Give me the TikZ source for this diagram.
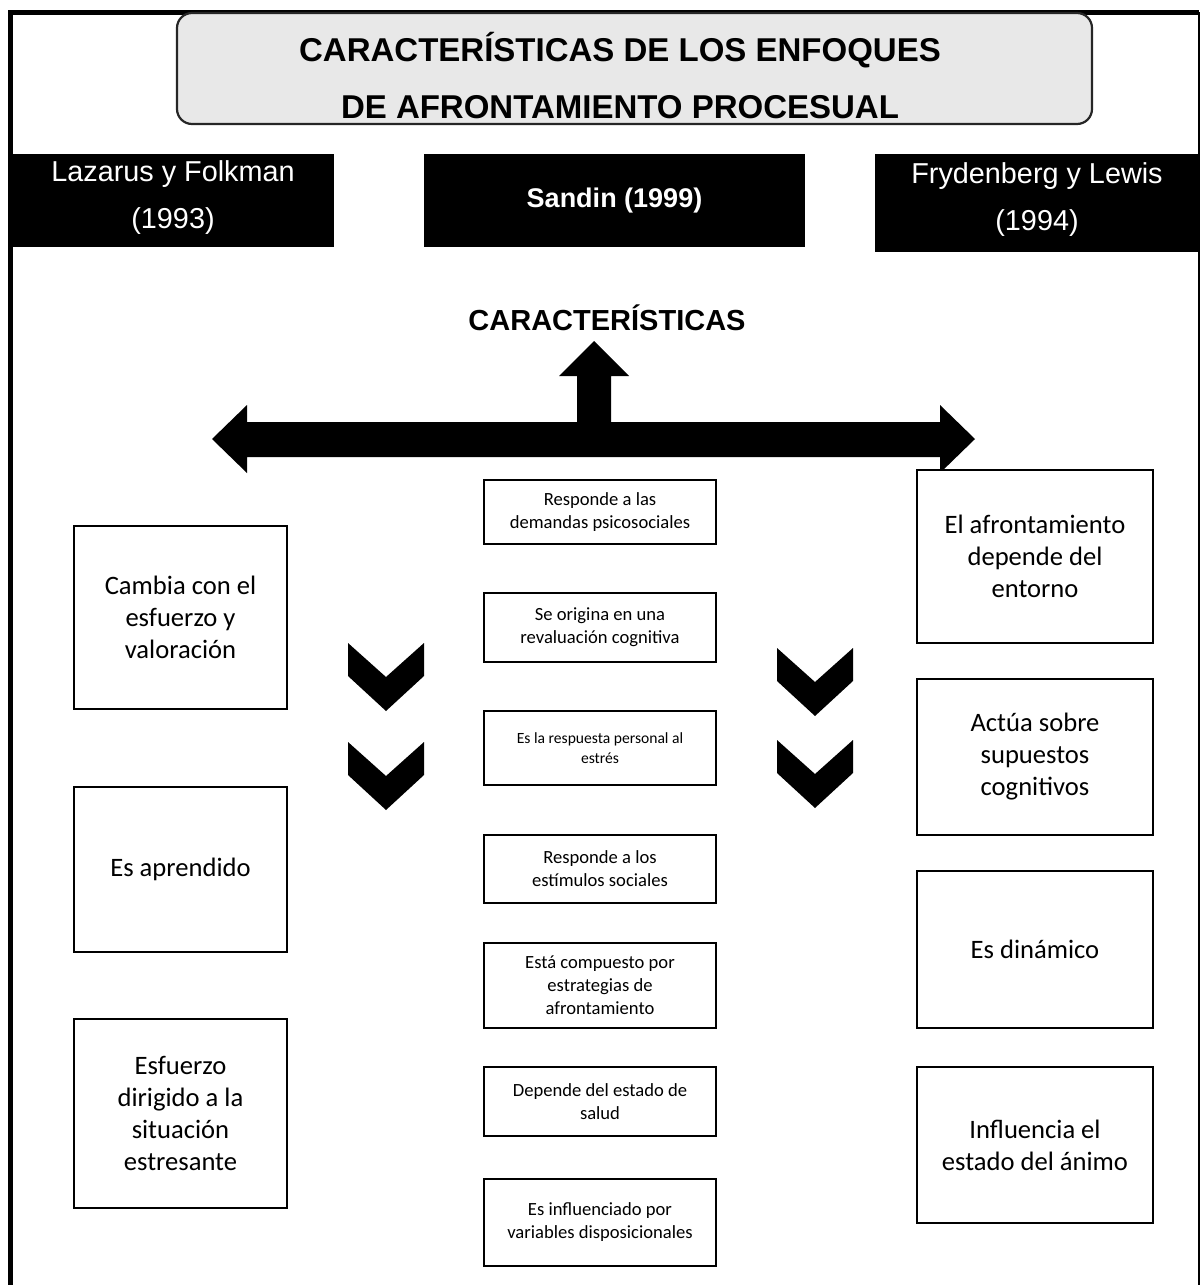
\documentclass[tikz,border=0pt]{standalone}
\usepackage{fontspec}
\setmainfont{Liberation Sans}
\newfontfamily\calib{Carlito}
\usetikzlibrary{positioning}
\tikzstyle{headbox} = [rectangle, fill=black, text=white, align=center, inner sep=0pt,
    text depth=6pt, font=\fontsize{14.4}{23.5}\selectfont]
\tikzstyle{cardbox} = [rectangle, draw=black, line width=1.2pt, fill=white, align=center,
    inner sep=0pt, font=\calib\fontsize{13.3}{16}\selectfont]
\tikzstyle{smallbox} = [rectangle, draw=black, line width=1.2pt, fill=white, align=center,
    inner sep=0pt, minimum width=116pt, font=\calib\fontsize{9.3}{11.5}\selectfont]
\tikzstyle{chevfill} = [fill=black]

\begin{document}
\begin{tikzpicture}[x=0.5pt, y=-0.5pt]
  \useasboundingbox (0,0) rectangle (1201,1285);
   % Frame
    \draw [line width=2.5pt] (10,1285) -- (10,12) -- (1199,12);
    \draw [line width=1pt] (1198.5,12) -- (1198.5,1285);
   % Title
    \node [rectangle, rounded corners=7.5pt, draw=black!85, line width=1.1pt, fill=black!9,
      minimum width=457.5pt, minimum height=55.5pt] (titlebox) at (634.5,68.5) {};
    \node [font=\bfseries\fontsize{16.5}{28.5}\selectfont, align=center] (title) at (620,75.5)
      {CARACTERÍSTICAS DE LOS ENFOQUES\\DE AFRONTAMIENTO PROCESUAL};
   % Authors
    \node [headbox, minimum width=161pt, minimum height=46.5pt] (lazarus) at (173,200.5)
      {Lazarus y Folkman\\(1993)};
    \node [headbox, minimum width=190.5pt, minimum height=46.5pt, text depth=,
      font=\bfseries\fontsize{13.5}{16}\selectfont] (sandin) at (614.5,200.5) {Sandin (1999)};
    \node [headbox, minimum width=162pt, minimum height=49pt] (fryden) at (1037,203)
      {Frydenberg y Lewis\\(1994)};
    \node [font=\bfseries\fontsize{14.5}{17}\selectfont] (caract) at (607,318) {CARACTERÍSTICAS};
   % Block arrow
    \fill (212,439) -- (247,405) -- (247,422) -- (577,422) -- (577,376) -- (559,376)
      -- (594,341) -- (629,376) -- (611,376) -- (611,422) -- (940,422) -- (940,405)
      -- (975,439) -- (940,473) -- (940,457) -- (247,457) -- (247,473) -- cycle;
   % Place nodes
    \node [cardbox, minimum width=106.5pt, minimum height=91.5pt] (cambia) at (180.5,617.5)
      {Cambia con el\\esfuerzo y\\valoración};
    \node [cardbox, minimum width=106.5pt, minimum height=82.5pt] (aprendido) at (180.5,869.5)
      {Es aprendido};
    \node [cardbox, minimum width=106.5pt, minimum height=94.5pt] (esfuerzo) at (180.5,1113.5)
      {Esfuerzo\\dirigido a la\\situación\\estresante};

    \node [smallbox, minimum height=32pt] (demandas) at (600,512)
      {Responde a las\\demandas psicosociales};
    \node [smallbox, minimum height=34.5pt] (reval) at (600,627.5)
      {Se origina en una\\revaluación cognitiva};
    \node [smallbox, minimum height=37pt, font=\calib\fontsize{7.8}{10}\selectfont] (respuesta)
      at (600,748) {Es la respuesta personal al\\estrés};
    \node [smallbox, minimum height=34pt] (estimulos) at (600,869)
      {Responde a los\\estímulos sociales};
    \node [smallbox, minimum height=42.5pt] (estrategias) at (600,985.5)
      {Está compuesto por\\estrategias de\\afrontamiento};
    \node [smallbox, minimum height=34.5pt] (salud) at (600,1101.5)
      {Depende del estado de\\salud};
    \node [smallbox, minimum height=43.5pt] (disposic) at (600,1222.5)
      {Es influenciado por\\variables disposicionales};

    \node [cardbox, minimum width=118pt, minimum height=86.5pt] (entorno) at (1035,556.5)
      {El afrontamiento\\depende del\\entorno};
    \node [cardbox, minimum width=118pt, minimum height=78pt] (supuestos) at (1035,757)
      {Actúa sobre\\supuestos\\cognitivos};
    \node [cardbox, minimum width=118pt, minimum height=78.5pt] (dinamico) at (1035,949.5)
      {Es dinámico};
    \node [cardbox, minimum width=118pt, minimum height=78pt] (animo) at (1035,1145)
      {Influencia el\\estado del ánimo};
   % Chevrons
    \foreach \cx/\cy in {386/643, 386/742, 815/648, 815/740}
      \fill [chevfill] (\cx-38,\cy) -- ++(0,33) -- ++(38,35) -- ++(38,-35) -- ++(0,-33)
        -- ++(-38,34) -- cycle;
  \end{tikzpicture}
\end{document}
